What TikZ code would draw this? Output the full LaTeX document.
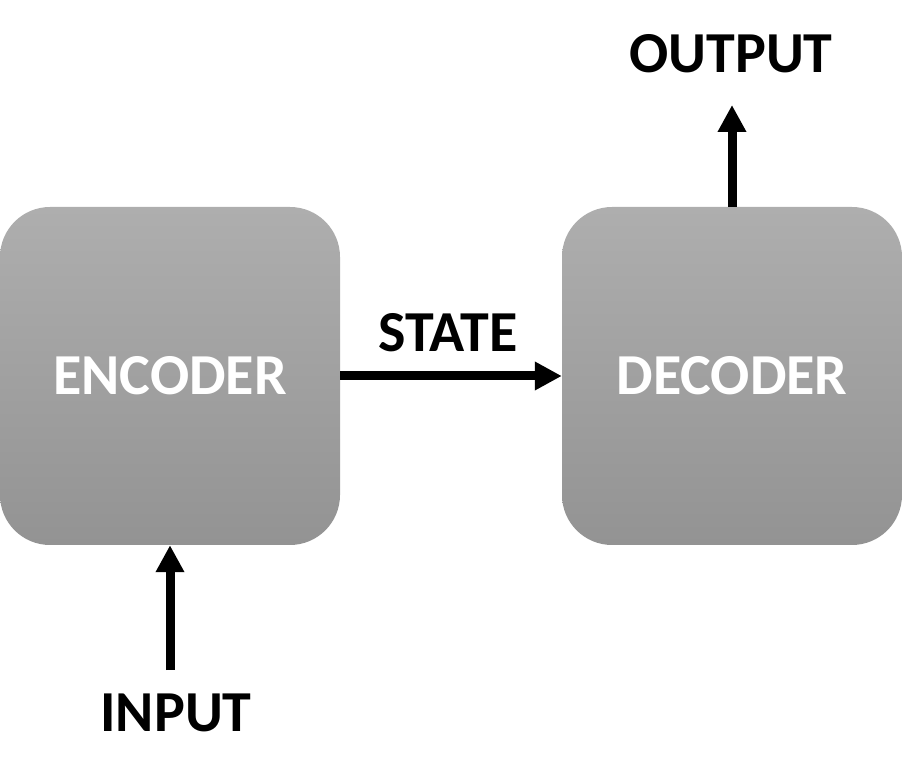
\documentclass[tikz,border=0pt]{standalone}
\usepackage{fontspec}
\setmainfont{Carlito}
\usetikzlibrary{arrows.meta}
\definecolor{boxtop}{HTML}{AEAEAE}
\definecolor{boxbot}{HTML}{939393}
\tikzset{
  block/.style={minimum width=340pt, minimum height=338pt, inner sep=0pt,
    rounded corners=50pt, top color=boxtop, bottom color=boxbot, draw=none,
    text=white, font=\fontsize{58}{60}\selectfont\bfseries},
  lbl/.style={inner sep=0pt, text=black, font=\fontsize{58}{60}\selectfont\bfseries},
  arr/.style={line width=9pt, -{Triangle[length=27pt,width=27pt]}}
}
\begin{document}
\begin{tikzpicture}[x=1pt,y=-1pt]
\useasboundingbox (0,0) rectangle (903,783);
\node[block] (enc) at (170,376) {ENCODER};
\node[block] (dec) at (732,376) {DECODER};
\node[lbl] (inp) at (176,713) {INPUT};
\node[lbl] (out) at (731,54) {OUTPUT};
\node[lbl] (st) at (448,333) {STATE};
\coordinate (inbot) at (170,670);
\coordinate (outtop) at (732,105);
\draw[arr] (inbot) -- (enc.south);
\draw[arr] (dec.north) -- (outtop);
\draw[arr] (enc.east) -- (dec.west);
\end{tikzpicture}
\end{document}
